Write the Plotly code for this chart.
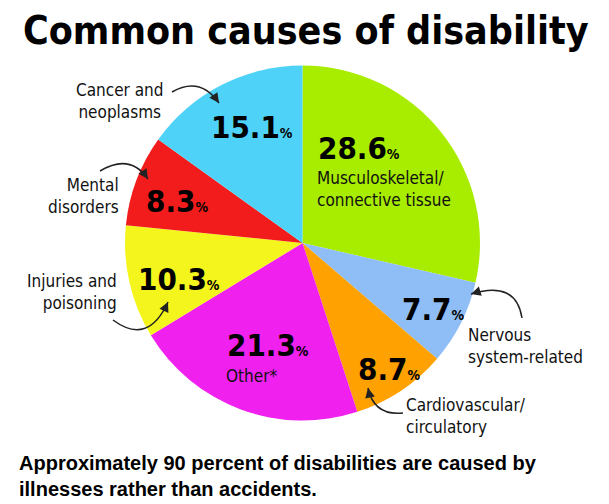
import math
import plotly.graph_objects as go

# ---- data ----
labels = ["Musculoskeletal/<br>connective tissue", "Nervous<br>system-related",
          "Cardiovascular/<br>circulatory", "Other*", "Injuries and<br>poisoning",
          "Mental<br>disorders", "Cancer and<br>neoplasms"]
values = [28.6, 7.7, 8.7, 21.3, 10.3, 8.3, 15.1]
colors = ["#a8ec00", "#8fbdf5", "#ffa100", "#f020ee", "#f5f51e", "#f21c1c", "#4ed2f7"]

title = "Common causes of disability"
footer = "Approximately 90 percent of disabilities are caused by<br>illnesses rather than accidents."

W, H = 609, 504
def px(x): return x / W
def py(y): return 1 - y / H

CX, CY, R = 302.5, 243, 177.5

fig = go.Figure()
fig.add_trace(go.Pie(
    labels=labels, values=values, sort=False, direction="clockwise", rotation=0,
    marker=dict(colors=colors, line=dict(width=0)),
    textinfo="none", hoverinfo="label+percent", showlegend=False,
    domain=dict(x=[px(CX - R), px(CX + R)], y=[py(CY + R), py(CY - R)]),
))

ann = []
BIG = "DejaVu Sans Condensed"
REG = "DejaVu Sans Condensed"

def pct(v):
    return f"<b>{v}</b><b><span style='font-size:14px'>%</span></b>"

# percentage labels (x pixel left edge, y pixel centre) in data order
pct_pos = [(316, 148), (400, 309), (356, 369), (225, 345), (136, 279), (144, 201), (209, 127)]
for v, (x, y) in zip(values, pct_pos):
    ann.append(dict(x=px(x), y=py(y), xref="paper", yref="paper", text=pct(v),
                    showarrow=False, xanchor="left", yanchor="middle",
                    font=dict(family=BIG, size=31, color="black")))

# category labels: (x, y, xanchor, align)
lab_pos = [(315, 189, "left", "left"), (466, 346, "left", "left"),
           (404, 416, "left", "left"), (224, 376, "left", "left"),
           (119, 292, "right", "right"), (121, 196, "right", "right"),
           (120, 101, "center", "center")]
for lab, (x, y, xa, al) in zip(labels, lab_pos):
    ann.append(dict(x=px(x), y=py(y), xref="paper", yref="paper", text=lab,
                    showarrow=False, xanchor=xa, yanchor="middle", align=al,
                    font=dict(family=REG, size=17, color="#111111")))

# curved pointer arrows (start, control, end) in pixels
arrows = [((172, 92), (200, 76), (219, 103)),
          ((100, 171), (130, 153), (148, 179)),
          ((113, 320), (148, 346), (168, 302)),
          ((522, 318), (516, 280), (471, 294)),
          ((403, 413), (374, 416), (368, 388))]
shapes = []
for (x0, y0), (cx, cy), (x1, y1) in arrows:
    shapes.append(dict(type="path", xref="paper", yref="paper",
                       path=f"M {px(x0)},{py(y0)} Q {px(cx)},{py(cy)} {px(x1)},{py(y1)}",
                       line=dict(color="#222222", width=1.5)))
    dx, dy = cx - x1, cy - y1
    n = math.hypot(dx, dy)
    ann.append(dict(x=px(x1), y=py(y1), xref="paper", yref="paper", text="",
                    showarrow=True, arrowhead=2, arrowsize=1.3, arrowwidth=1.5,
                    arrowcolor="#222222", ax=dx / n * 6, ay=dy / n * 6))

# title & footer
ann.append(dict(x=px(305.5), y=py(30), xref="paper", yref="paper", text=f"<b>{title}</b>",
                showarrow=False, xanchor="center", yanchor="middle",
                font=dict(family=BIG, size=39, color="black")))
ann.append(dict(x=px(17), y=py(476), xref="paper", yref="paper", text=f"<b>{footer}</b>",
                showarrow=False, xanchor="left", yanchor="middle", align="left",
                font=dict(family="Liberation Sans", size=20, color="black")))

fig.update_layout(width=W, height=H, margin=dict(l=0, r=0, t=0, b=0),
                  paper_bgcolor="white", plot_bgcolor="white",
                  annotations=ann, shapes=shapes)
fig.write_html("out.html")
